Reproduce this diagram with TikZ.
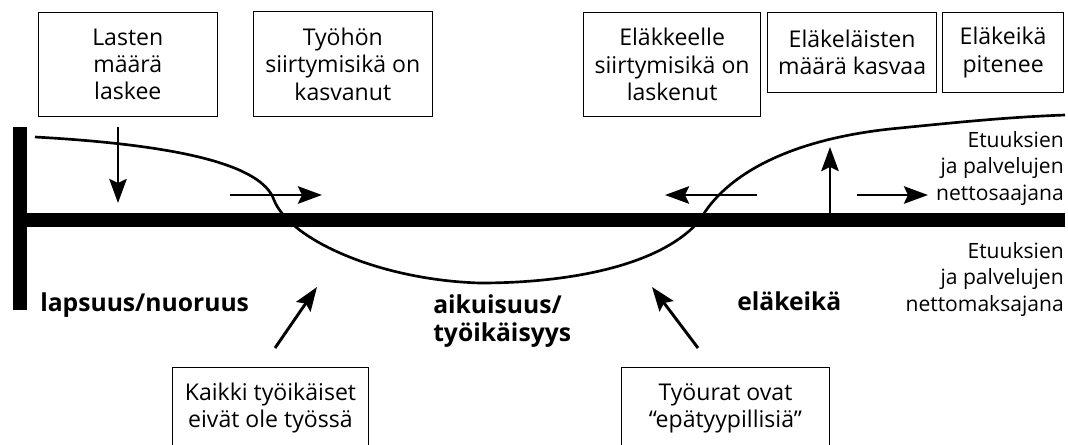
\documentclass[tikz,border=0pt]{standalone}
\usepackage{fontspec}
\setmainfont{Open Sans}
\usetikzlibrary{arrows.meta}

\begin{document}
\begin{tikzpicture}[x=0.75pt, y=-0.75pt,
    box/.style={draw, line width=0.7pt, inner sep=0pt, anchor=north west,
      align=center, font=\fontsize{17.3}{20.5}\selectfont},
    txt/.style={inner sep=0pt, align=right, font=\fontsize{15.8}{20}\selectfont},
    lbl/.style={inner sep=0pt, align=left, font=\bfseries\fontsize{18.5}{21}\selectfont},
    bar/.style={line width=10.5pt},
    curve/.style={line width=2pt},
    arr/.style={line width=2.2pt, -{Stealth[length=18pt, width=13pt, inset=3pt]}}]
  \useasboundingbox (0,0) rectangle (1068,444);
  \clip (0,0) rectangle (1068,444);

  % axes
  \draw[bar] (19.5,127) -- (19.5,310);
  \draw[bar] (13,220) -- (1065,220);

  % net balance over the life course
  \draw[curve] (35,137) .. controls (180,145) and (262,165) .. (274,200)
    .. controls (290,240) and (380,280) .. (480,283)
    .. controls (580,283) and (665,262) .. (700,220)
    .. controls (725,175) and (790,138) .. (900,128)
    .. controls (960,122) and (1010,117) .. (1065,115);

  % boxes above
  \node[box, minimum width=134pt, minimum height=78pt] (lasten) at (38,12) {Lasten\\määrä\\laskee};
  \node[box, minimum width=134pt, minimum height=79pt] (tyohon) at (253,11) {Työhön\\siirtymisikä on\\kasvanut};
  \node[box, minimum width=133pt, minimum height=78pt] (elakkeelle) at (583,12) {Eläkkeelle\\siirtymisikä on\\laskenut};
  \node[box, minimum width=127pt, minimum height=60pt] (elakelaiset) at (767,12) {Eläkeläisten\\määrä kasvaa};
  \node[box, minimum width=91pt, minimum height=60pt] (elakeika) at (942,12) {Eläkeikä\\pitenee};

  % boxes below
  \node[box, minimum width=147pt, minimum height=61pt] (kaikki) at (172,367) {Kaikki työikäiset\\eivät ole työssä};
  \node[box, minimum width=156pt, minimum height=61pt] (tyourat) at (621,367) {Työurat ovat\\“epätyypillisiä”};

  % side texts
  \node[txt, anchor=north east] (saaja) at (1064,131) {Etuuksien\\ja palvelujen\\nettosaajana};
  \node[txt, anchor=north east] (maksaja) at (1064,242) {Etuuksien\\ja palvelujen\\nettomaksajana};

  % life stages
  \node[lbl, anchor=base west] (lapsuus) at (40,311) {lapsuus/nuoruus};
  \node[lbl, anchor=north west] (aikuisuus) at (433,294) {aikuisuus/\\työikäisyys};
  \node[lbl, anchor=base west] (elakeikaLbl) at (737,310) {eläkeikä};

  % arrow ends
  \coordinate (a1s) at (118,127);  \coordinate (a1e) at (118,203);
  \coordinate (a2s) at (230,195);  \coordinate (a2e) at (322,195);
  \coordinate (a3s) at (757,195);  \coordinate (a3e) at (665,195);
  \coordinate (a4s) at (830,213);  \coordinate (a4e) at (830,147);
  \coordinate (a5s) at (857,195);  \coordinate (a5e) at (928,195);
  \coordinate (a6s) at (275,348);  \coordinate (a6e) at (317,287);
  \coordinate (a7s) at (698,348);  \coordinate (a7e) at (652,287);

  \draw[arr] (a1s) -- (a1e);
  \draw[arr] (a2s) -- (a2e);
  \draw[arr] (a3s) -- (a3e);
  \draw[arr] (a4s) -- (a4e);
  \draw[arr] (a5s) -- (a5e);
  \draw[arr] (a6s) -- (a6e);
  \draw[arr] (a7s) -- (a7e);
\end{tikzpicture}
\end{document}
